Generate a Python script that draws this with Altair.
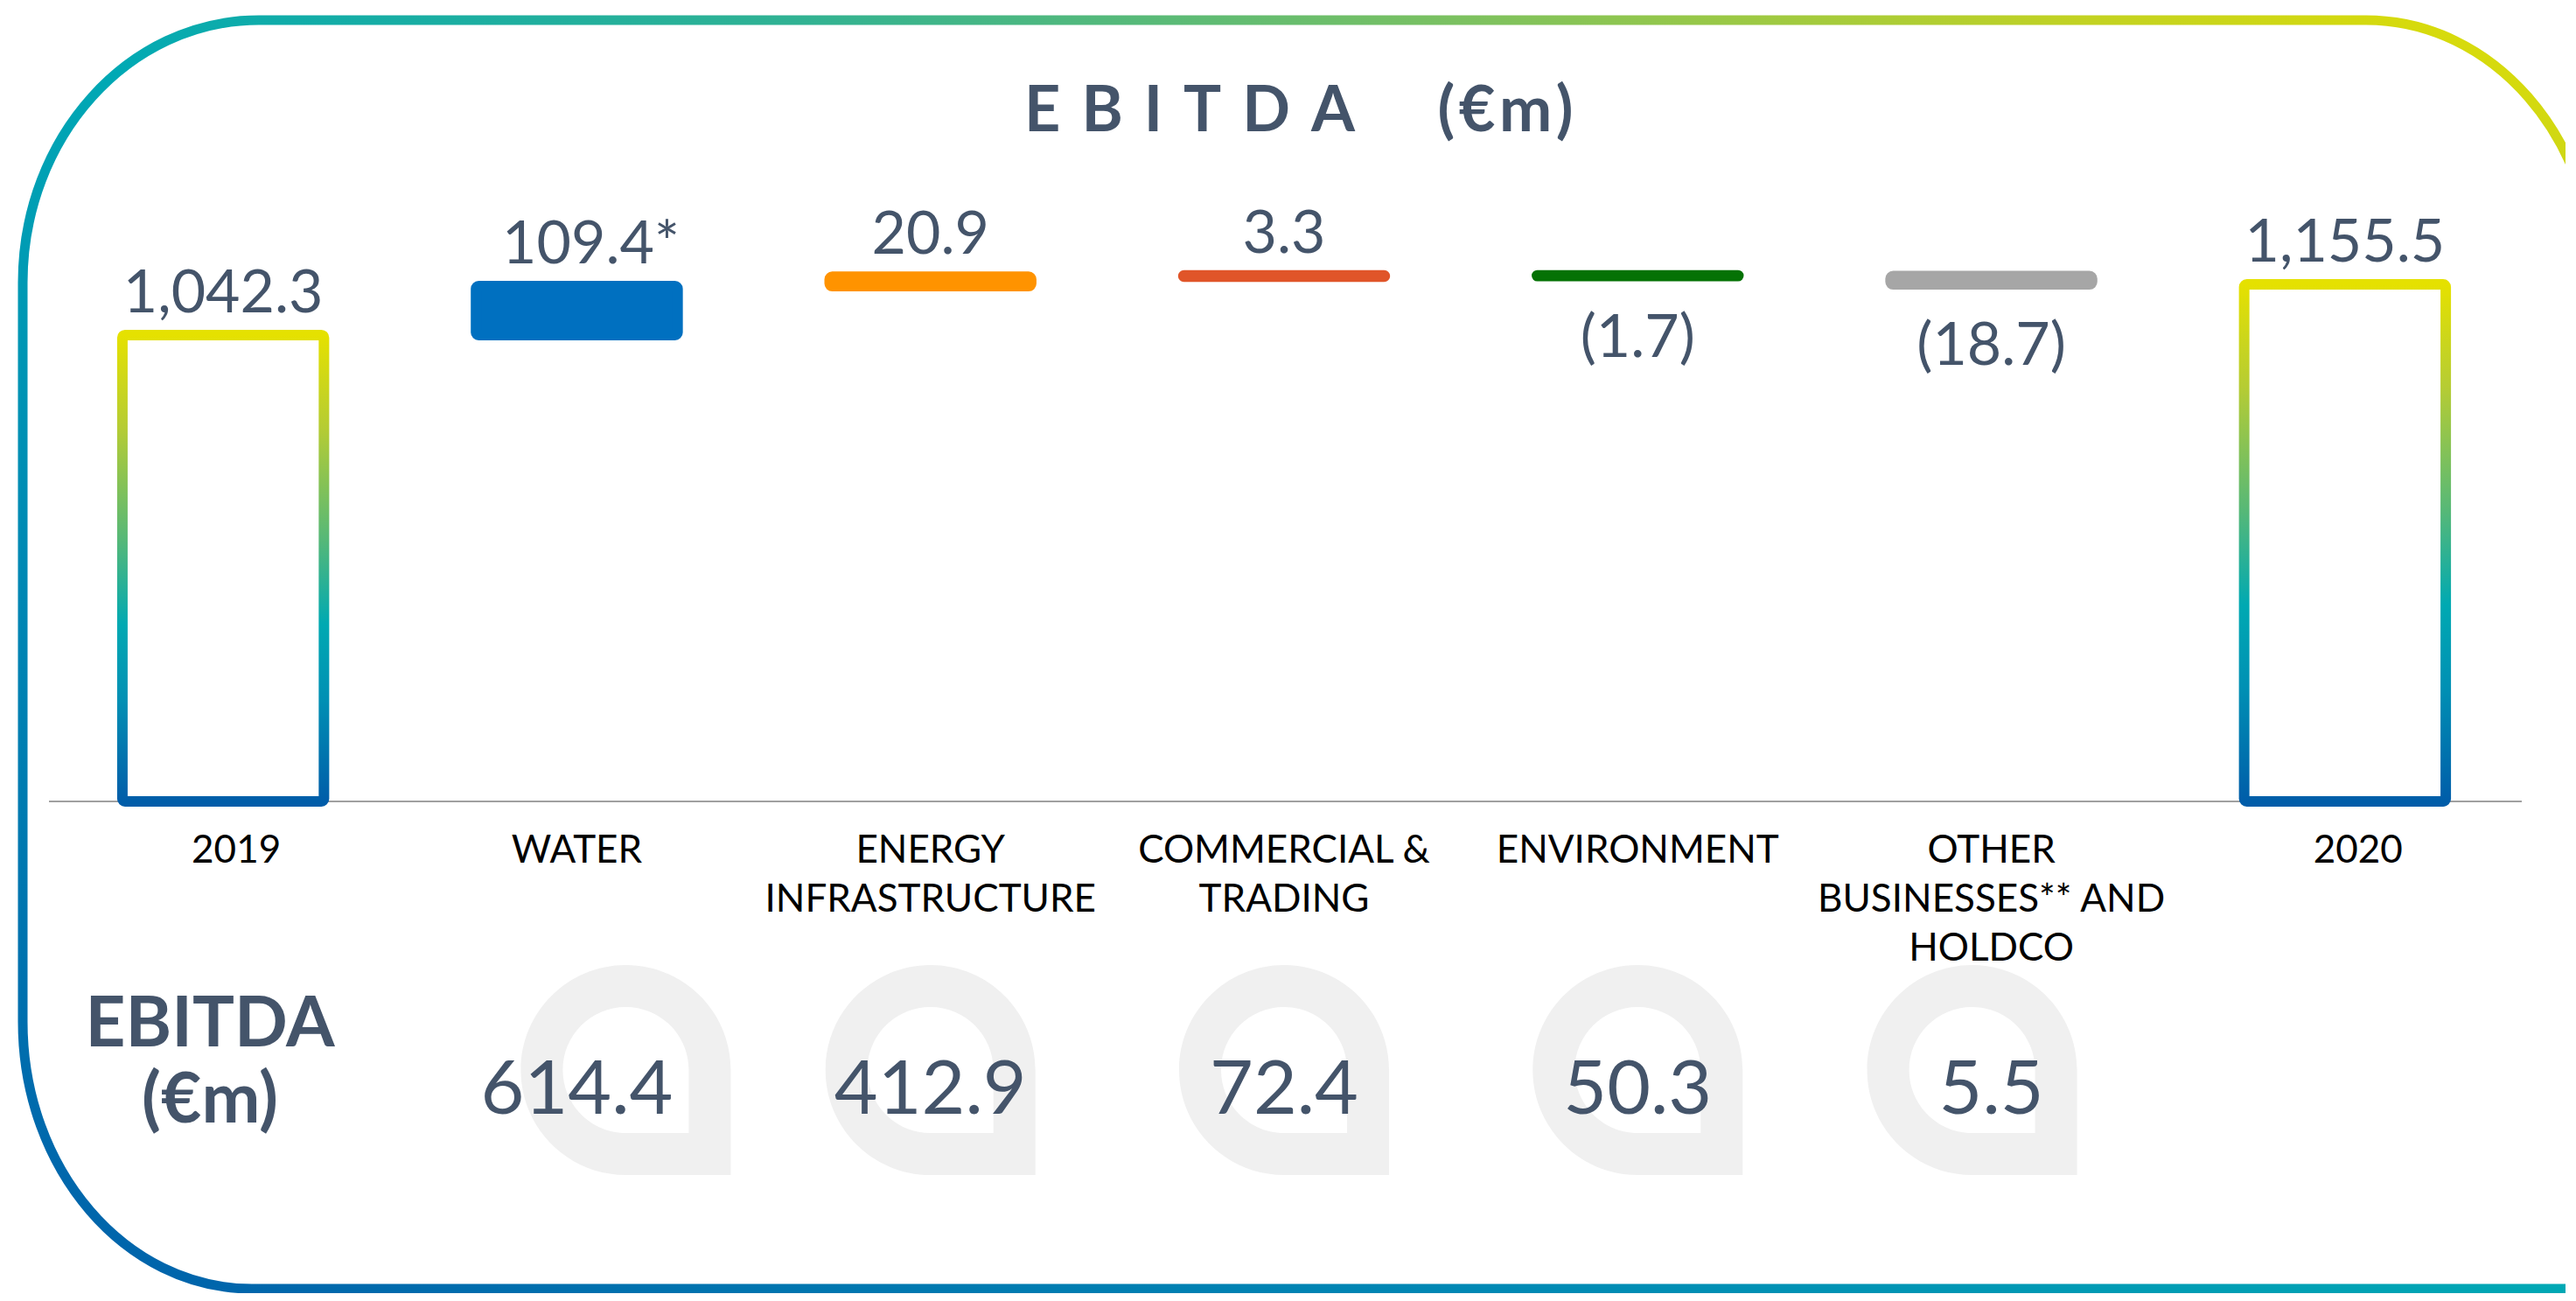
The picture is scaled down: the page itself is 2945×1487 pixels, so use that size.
import altair as alt
import pandas as pd

# ---------------- data ----------------
categories = ["2019", "WATER", "ENERGY INFRASTRUCTURE", "COMMERCIAL & TRADING",
              "ENVIRONMENT", "OTHER BUSINESSES AND HOLDCO", "2020"]
category_labels = ["2019", "WATER", "ENERGY\nINFRASTRUCTURE", "COMMERCIAL &\nTRADING",
                   "ENVIRONMENT", "OTHER\nBUSINESSES** AND\nHOLDCO", "2020"]
total_years = ["2019", "2020"]
total_values = [1042.3, 1155.5]
total_labels = ["1,042.3", "1,155.5"]
segments = categories[1:6]
segment_change = [109.4, 20.9, 3.3, -1.7, -18.7]
change_labels = ["109.4*", "20.9", "3.3", "(1.7)", "(18.7)"]
segment_ebitda = [614.4, 412.9, 72.4, 50.3, 5.5]

# ---------------- styles ----------------
segment_palette = ["#0070C0", "#FF9300", "#E05529", "#057205", "#A6A6A6"]
TEXT = "#44546A"
FONT = "Lato"

# ---------------- tables ----------------
totals = pd.DataFrame({"cat": total_years, "value": total_values,
                       "base": [0.0, 0.0], "label": total_labels})
starts, ends = [], []
run = total_values[0]
for c in segment_change:
    starts.append(run)
    run = run + c
    ends.append(run)
changes = pd.DataFrame({"cat": segments, "start": starts, "end": ends,
                        "label": change_labels, "change": segment_change})
changes["top"] = changes[["start", "end"]].max(axis=1)
changes["bottom"] = changes[["start", "end"]].min(axis=1)
cats = pd.DataFrame({"cat": categories, "label": category_labels})
seg = pd.DataFrame({"cat": segments, "ebitda": segment_ebitda})
one = pd.DataFrame({"zero": [0.0]})

pos_labels = pd.concat([
    pd.DataFrame({"cat": totals["cat"], "anchor": totals["value"], "label": totals["label"]}),
    pd.DataFrame({"cat": changes["cat"], "anchor": changes["top"], "label": changes["label"]})[changes["change"] > 0],
])
neg_labels = pd.DataFrame({"cat": changes["cat"], "anchor": changes["bottom"],
                           "label": changes["label"]})[changes["change"] < 0]

# ---------------- scales ----------------
xscale = alt.Scale(domain=categories, range=[45, 2875], paddingInner=0, paddingOuter=0)
yscale = alt.Scale(domain=[0, 1000], range=[908, 396.6], nice=False, zero=False)
X = alt.X("cat:N", scale=xscale, axis=None)
segcolor = alt.Scale(domain=segments, range=segment_palette)

bar_grad = alt.LinearGradient(
    gradient="linear", x1=0, y1=1, x2=0, y2=0,
    stops=[alt.GradientStop(color="#005DA9", offset=0),
           alt.GradientStop(color="#0090B4", offset=0.22),
           alt.GradientStop(color="#00A9B2", offset=0.38),
           alt.GradientStop(color="#55B878", offset=0.56),
           alt.GradientStop(color="#B5CC34", offset=0.8),
           alt.GradientStop(color="#E5E100", offset=1)])
border_grad = alt.LinearGradient(
    gradient="linear", x1=0, y1=1, x2=1, y2=0,
    stops=[alt.GradientStop(color="#0060AA", offset=0),
           alt.GradientStop(color="#0088B4", offset=0.28),
           alt.GradientStop(color="#00A9B4", offset=0.5),
           alt.GradientStop(color="#30B293", offset=0.65),
           alt.GradientStop(color="#7CC160", offset=0.78),
           alt.GradientStop(color="#C2D222", offset=0.9),
           alt.GradientStop(color="#E2DF00", offset=1)])

# ---------------- layers ----------------
# rounded frame (decoration), drawn as a pixel-unit custom symbol
frame_path = ("M2959,1465 L280,1465 A262,305 0 0,1 18,1160 L18,315 "
              "A270,300 0 0,1 288,15 L2697,15 A262,300 0 0,1 2959,315 Z")
border = alt.Chart(one).mark_point(
    shape=frame_path, size=4, filled=False, fill=None, stroke=border_grad,
    strokeWidth=11, opacity=1
).encode(x=alt.value(0), y=alt.value(0))

baseline = alt.Chart(one).mark_rule(color="#A0A0A0", strokeWidth=2).encode(
    x=alt.value(48), x2=alt.value(2875), y=alt.Y("zero:Q", scale=yscale, axis=None))

total_bars = alt.Chart(totals).mark_bar(
    fill="white", stroke=bar_grad, strokeWidth=12, cornerRadius=3,
    width=alt.RelativeBandSize(0.57)
).encode(x=X, y=alt.Y("value:Q", scale=yscale, axis=None), y2="base:Q")

change_bars = alt.Chart(changes).mark_bar(
    strokeWidth=12, strokeJoin="round", cornerRadius=3, opacity=1,
    width=alt.RelativeBandSize(0.57)
).encode(
    x=X, y=alt.Y("start:Q", scale=yscale, axis=None), y2="end:Q",
    fill=alt.Fill("cat:N", scale=segcolor, legend=None),
    stroke=alt.Stroke("cat:N", scale=segcolor, legend=None))

pos_text = alt.Chart(pos_labels).transform_filter(
    alt.datum.cat != "WATER"
).mark_text(
    font=FONT, fontSize=68, color=TEXT, baseline="alphabetic", align="center", dy=-26
).encode(x=X, y=alt.Y("anchor:Q", scale=yscale, axis=None), text="label:N")

water_text = alt.Chart(pos_labels).transform_filter(
    alt.datum.cat == "WATER"
).mark_text(
    font=FONT, fontSize=68, color=TEXT, baseline="alphabetic", align="center", dy=-26, dx=16
).encode(x=X, y=alt.Y("anchor:Q", scale=yscale, axis=None), text="label:N")

neg_text = alt.Chart(neg_labels).mark_text(
    font=FONT, fontSize=68, color=TEXT, baseline="alphabetic", align="center", dy=92
).encode(x=X, y=alt.Y("anchor:Q", scale=yscale, axis=None), text="label:N")

is_year = (alt.datum.cat == "2019") | (alt.datum.cat == "2020")
cat_text = alt.Chart(cats).transform_filter(~is_year).mark_text(
    font=FONT, fontSize=44, color="#000000", baseline="alphabetic", align="center",
    lineBreak="\n", lineHeight=56
).encode(x=X, y=alt.value(978), text="label:N")
year_text = alt.Chart(cats).transform_filter(is_year).mark_text(
    font=FONT, fontSize=44, color="#000000", baseline="alphabetic", align="center", dx=15
).encode(x=X, y=alt.value(978), text="label:N")

title1 = alt.Chart(one).mark_text(
    font=FONT, fontSize=72, fontWeight="bold", color=TEXT, baseline="alphabetic", align="center"
).encode(x=alt.value(1352), y=alt.value(142),
         text=alt.value("E\u2004B\u2004I\u2004T\u2004D\u2004A"))
title2 = alt.Chart(one).mark_text(
    font=FONT, fontSize=72, fontWeight="bold", color=TEXT, baseline="alphabetic", align="center"
).encode(x=alt.value(1713), y=alt.value(142), text=alt.value("(\u200a€\u200am\u200a)"))

row1 = alt.Chart(one).mark_text(
    font=FONT, fontSize=80, fontWeight="bold", color=TEXT, baseline="alphabetic", align="center"
).encode(x=alt.value(232), y=alt.value(1188), text=alt.value("EBITDA"))
row2 = alt.Chart(one).mark_text(
    font=FONT, fontSize=80, fontWeight="bold", color=TEXT, baseline="alphabetic", align="center"
).encode(x=alt.value(232), y=alt.value(1275), text=alt.value("(€m)"))

drop_path = ("M-1,0 A1,1 0 0,1 1,0 L1,1 L0,1 A1,1 0 0,1 -1,0 Z "
             "M-0.6,0 A0.6,0.6 0 0,0 0,0.6 L0.6,0.6 L0.6,0 A0.6,0.6 0 0,0 -0.6,0 Z")


def drop_layer(filt, shift):
    return alt.Chart(seg).transform_filter(filt).mark_point(
        shape=drop_path, size=57600, filled=True, fill="#F0F0F0", opacity=1,
        strokeWidth=0, xOffset=shift
    ).encode(x=X, y=alt.value(1215))


drops_w = drop_layer(alt.datum.cat == "WATER", 56)
drops_o = drop_layer(alt.datum.cat == "OTHER BUSINESSES AND HOLDCO", -22)
drops_r = drop_layer((alt.datum.cat != "WATER") & (alt.datum.cat != "OTHER BUSINESSES AND HOLDCO"), 0)

seg_text = alt.Chart(seg).mark_text(
    font=FONT, fontSize=86, color=TEXT, baseline="alphabetic", align="center"
).encode(x=X, y=alt.value(1265), text=alt.Text("ebitda:Q", format=".1f"))

chart = alt.layer(
    border, baseline, total_bars, change_bars, pos_text, water_text, neg_text, cat_text,
    year_text, title1, title2, row1, row2, drops_w, drops_o, drops_r, seg_text
).properties(
    width=2925, height=1470, padding=0,
    autosize=alt.AutoSizeParams(type="none"), background="white"
).configure_view(stroke=None)

chart.save("out.html", embed_options={"renderer": "svg", "actions": False})
